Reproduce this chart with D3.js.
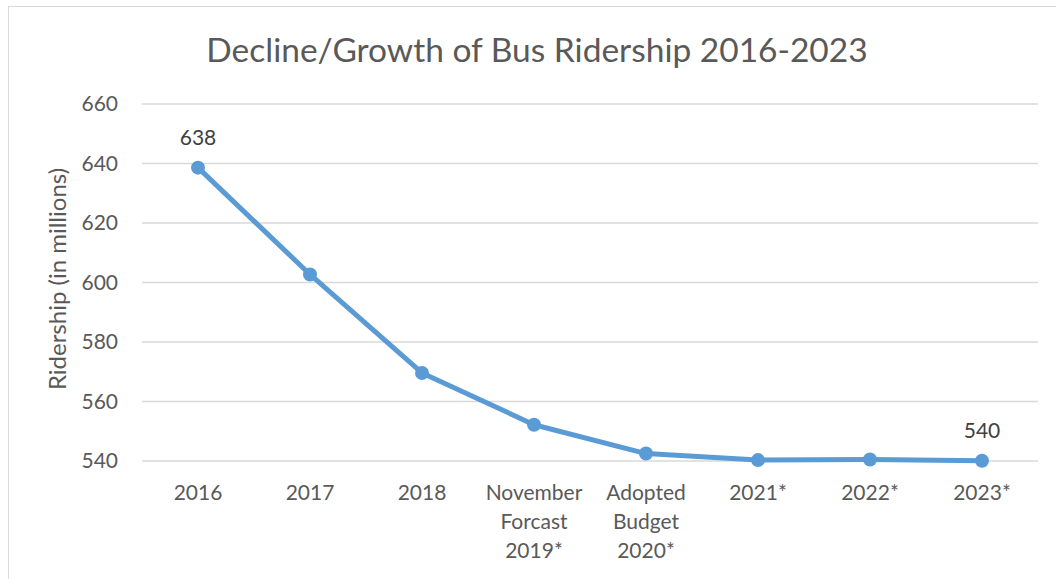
<!DOCTYPE html>
<html>
<head>
<meta charset="utf-8">
<script src="https://cdn.jsdelivr.net/npm/d3@7"></script>
<style>
  body { margin: 0; background: #fff; }
  svg { display: block; font-family: Lato, "Open Sans", sans-serif; }
</style>
</head>
<body>
<svg width="1056" height="579"></svg>
<script>
let categories = ["2016", "2017", "2018", "November Forcast 2019*", "Adopted Budget 2020*", "2021*", "2022*", "2023*"];
let ridership = [638.6, 602.7, 569.6, 552.2, 542.5, 540.3, 540.5, 540.1];
let yTicks = [540, 560, 580, 600, 620, 640, 660];
let labelIdx = [0, 7];

let svg = d3.select("svg"),
 width = +svg.attr("width"),
 height = +svg.attr("height");

let margin = {left: 142, right: 20, top: 104, bottom: 118};

// chart border
svg.append("rect")
    .attr("x", 8.5).attr("y", 6.5)
    .attr("width", width + 10).attr("height", height + 10)
    .attr("fill", "none")
    .attr("stroke", "#d9d9d9");

let x = d3.scaleBand()
    .domain(categories)
    .range([margin.left, margin.left + 8 * 112]);

let y = d3.scaleLinear()
    .domain([540, 660])
    .range([461, 104]);

// gridlines
svg.append("g")
    .attr("class", "grid")
    .selectAll("line")
    .data(yTicks)
    .enter().append("line")
    .attr("x1", x.range()[0])
    .attr("x2", x.range()[1])
    .attr("y1", d => y(d))
    .attr("y2", d => y(d))
    .attr("stroke", "#d9d9d9")
    .attr("stroke-width", 1.3);

// y axis labels
svg.append("g")
    .selectAll("text")
    .data(yTicks)
    .enter().append("text")
    .attr("x", 118)
    .attr("y", d => y(d))
    .attr("dy", "0.35em")
    .attr("text-anchor", "end")
    .attr("font-size", 21)
    .attr("fill", "#595959")
    .text(d => d);

// x axis labels (wrapped)
let xl = svg.append("g")
    .selectAll("text")
    .data(categories)
    .enter().append("text")
    .attr("text-anchor", "middle")
    .attr("font-size", 21)
    .attr("fill", "#595959");

xl.each(function(d) {
    let words = d.split(" ");
    let t = d3.select(this);
    words.forEach((w, i) => {
        t.append("tspan")
            .attr("x", x(d) + x.bandwidth() / 2)
            .attr("y", 500 + i * 29)
            .text(w);
    });
});

// axis title
svg.append("text")
    .attr("transform", "translate(66,279) rotate(-90)")
    .attr("text-anchor", "middle")
    .attr("font-size", 24)
    .attr("fill", "#595959")
    .text("Ridership (in millions)");

// chart title
svg.append("text")
    .attr("x", 537)
    .attr("y", 62)
    .attr("text-anchor", "middle")
    .attr("font-size", 33.5)
    .attr("fill", "#595959")
    .text("Decline/Growth of Bus Ridership 2016-2023");

let cx = d => x(d) + x.bandwidth() / 2;

let line = d3.line()
    .x((d, i) => cx(categories[i]))
    .y(d => y(d));

svg.append("path")
    .datum(ridership)
    .attr("d", line)
    .attr("fill", "none")
    .attr("stroke", "#5b9bd5")
    .attr("stroke-width", 5)
    .attr("stroke-linejoin", "round");

svg.append("g")
    .selectAll("circle")
    .data(ridership)
    .enter().append("circle")
    .attr("cx", (d, i) => cx(categories[i]))
    .attr("cy", d => y(d))
    .attr("r", 7)
    .attr("fill", "#5b9bd5");

// data labels
svg.append("g")
    .selectAll("text")
    .data(labelIdx)
    .enter().append("text")
    .attr("x", i => cx(categories[i]))
    .attr("y", i => y(ridership[i]) - 23)
    .attr("text-anchor", "middle")
    .attr("font-size", 21)
    .attr("fill", "#404040")
    .text(i => Math.floor(ridership[i]));
</script>
</body>
</html>
